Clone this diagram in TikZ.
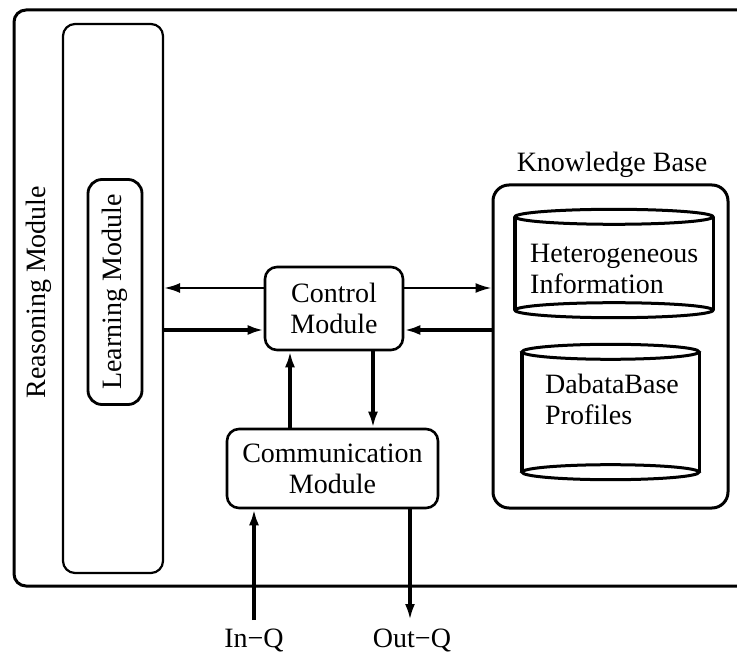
\documentclass[tikz,border=0pt]{standalone}
\usepackage{fontspec}
\setmainfont{Liberation Serif}
\usetikzlibrary{arrows.meta}
\begin{document}
\begin{tikzpicture}[x=1pt,y=-1pt,
  lbl/.style={font=\fontsize{28}{31}\selectfont, align=center, inner sep=0pt},
  module/.style={draw, line width=2.6pt, rounded corners=12pt, lbl},
  cyl/.style={minimum width=#1, inner sep=0pt, draw=none},
  ahead/.style={-{Latex[length=16pt,width=10pt]}},
  thinarrow/.style={ahead, line width=2.2pt},
  thickarrow/.style={ahead, line width=3.6pt},
  dbwall/.style={line width=3.4pt},
  dbrim/.style={line width=3pt},
]
\useasboundingbox (0,0) rectangle (737,655);

% outer frame, running past the right edge
\begin{scope}
  \clip (0,0) rectangle (737,655);
  \draw[line width=3pt, rounded corners=12pt]
    (790,10) -- (14,10) -- (14,586) -- (790,586);
\end{scope}

% reasoning module with the learning module inside
\node[draw, line width=2.2pt, rounded corners=12pt, minimum width=100, minimum height=549, inner sep=0pt]
  (reason) at (113,298.5) {};
\node[lbl, rotate=90] (reasonlbl) at (39,292) {Reasoning Module};
\node[draw, line width=2.8pt, rounded corners=14pt, minimum width=54, minimum height=225, inner sep=0pt]
  (learn) at (115,292) {};
\node[lbl, rotate=90] (learnlbl) at (115,292) {Learning Module};

% control and communication modules
\node[module, minimum width=138, minimum height=83] (ctrl) at (334,308.5) {Control\\Module};
\node[module, minimum width=211, minimum height=79] (comm) at (332.5,468.5) {Communication\\Module};

% knowledge base
\node[draw, line width=3pt, rounded corners=16pt, minimum width=235, minimum height=323, inner sep=0pt]
  (kb) at (610.5,346.5) {};
\node[lbl] (kblbl) at (612,165) {Knowledge Base};

\node[cyl=198, minimum height=93] (hetero) at (614,263.5) {};
\draw[dbwall] (hetero.north west) -- (hetero.south west)
              (hetero.north east) -- (hetero.south east);
\draw[dbrim] (hetero.north) ellipse [x radius=99, y radius=7.5]
             (hetero.south) ellipse [x radius=99, y radius=7.5];
\node[lbl, align=left, anchor=west] (heterolbl) at (530,269) {Heterogeneous\\Information};

\node[cyl=177, minimum height=120] (dbase) at (610.5,412) {};
\draw[dbwall] (dbase.north west) -- (dbase.south west)
              (dbase.north east) -- (dbase.south east);
\draw[dbrim] (dbase.north) ellipse [x radius=88.5, y radius=7.5]
             (dbase.south) ellipse [x radius=88.5, y radius=7.5];
\node[lbl, align=left, anchor=west] (dbaselbl) at (545,399) {DabataBase\\Profiles};

% connector levels
\coordinate (upper) at (0,288);
\coordinate (lower) at (0,330);
\coordinate (qend) at (0,620);
\coordinate (upx) at (290,0);
\coordinate (downx) at (373,0);
\coordinate (inx) at (254,0);
\coordinate (outx) at (410,0);

% control <-> reasoning
\draw[thinarrow] (ctrl.west |- upper) -- (reason.east |- upper);
\draw[thickarrow] (reason.east |- lower) -- (ctrl.west |- lower);
% control <-> knowledge base
\draw[thinarrow] (ctrl.east |- upper) -- (kb.west |- upper);
\draw[thickarrow] (kb.west |- lower) -- (ctrl.east |- lower);
% control <-> communication
\draw[thickarrow] (upx |- comm.north) -- (upx |- ctrl.south);
\draw[thickarrow] (downx |- ctrl.south) -- (downx |- comm.north);
% queues
\coordinate (inq) at (inx |- qend);
\coordinate (outq) at (outx |- qend);
\draw[thickarrow] (inq) -- (inx |- comm.south);
\draw[thickarrow] (outx |- comm.south) -- (outq);
\node[lbl] (inlbl) at (254,640) {In−Q};
\node[lbl] (outlbl) at (412,640) {Out−Q};
\end{tikzpicture}
\end{document}
